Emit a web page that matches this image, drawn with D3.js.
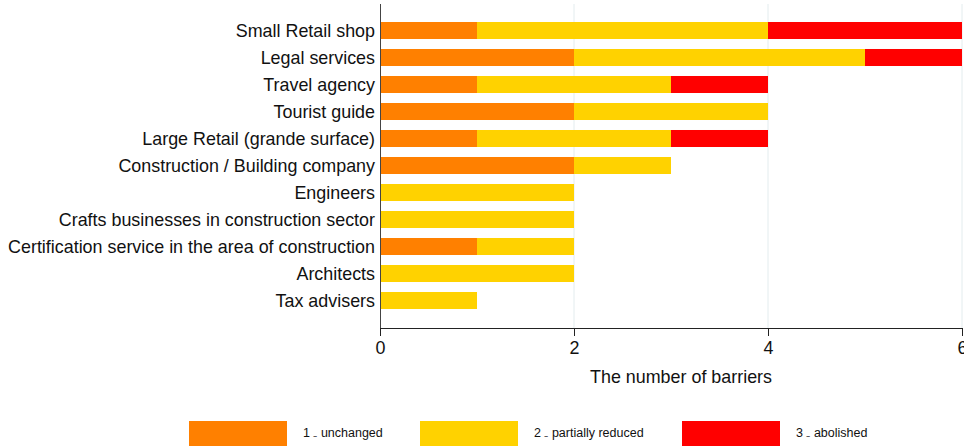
<!DOCTYPE html>
<html><head><meta charset="utf-8">
<script src="https://cdn.jsdelivr.net/npm/d3@7"></script>
<style>body{margin:0;background:#fff}svg{display:block}text{font-family:"Liberation Sans",Arial,sans-serif}</style>
</head><body><svg width="964" height="446"></svg>
<script>
const categories = ["Small Retail shop","Legal services","Travel agency","Tourist guide","Large Retail (grande surface)","Construction / Building company","Engineers","Crafts businesses in construction sector","Certification service in the area of construction","Architects","Tax advisers"];
const unchanged = [1,2,1,2,1,2,0,0,1,0,0];
const partiallyReduced = [3,3,2,2,2,1,2,2,1,2,1];
const abolished = [2,1,1,0,1,0,0,0,0,0,0];
const seriesNames = ["1 \u208B unchanged","2 \u208B partially reduced","3 \u208B abolished"];
const colors = ["#FF8000","#FFD200","#FF0000"];
const xTicks = [0,2,4,6];

const svg = d3.select("svg");
const x = d3.scaleLinear().domain([0,6]).range([380,962]);
const y = d3.scaleBand().domain(categories).range([17,314]).paddingInner(0.37).paddingOuter(0.185);

// gridlines
svg.append("g").selectAll("line").data(xTicks.filter(d=>d>0)).join("line")
  .attr("x1",d=>x(d)).attr("x2",d=>x(d)).attr("y1",4).attr("y2",328)
  .attr("stroke","#e3ecee").attr("stroke-width",1);

const stackData = categories.map((c,i)=>({cat:c, s0:unchanged[i], s1:partiallyReduced[i], s2:abolished[i]}));
const stack = d3.stack().keys(["s0","s1","s2"])(stackData);

svg.append("g").selectAll("g").data(stack).join("g")
  .attr("fill",(d,i)=>colors[i])
  .selectAll("rect").data(d=>d.filter(p=>p[1]>p[0])).join("rect")
  .attr("x",d=>x(d[0])).attr("width",d=>x(d[1])-x(d[0]))
  .attr("y",d=>y(d.data.cat)).attr("height",y.bandwidth());

// x axis
const xa = svg.append("g").attr("transform","translate(0,328)")
  .call(d3.axisBottom(x).tickValues(xTicks).tickFormat(d3.format("d")).tickSize(8).tickPadding(5).tickSizeOuter(0));
xa.select(".domain").attr("stroke","#222");
xa.selectAll(".tick line").attr("stroke","#222");
xa.selectAll("text").attr("font-size",17.9).attr("fill","#111");

// y axis line
svg.append("line").attr("x1",380.5).attr("x2",380.5).attr("y1",4).attr("y2",328).attr("stroke","#444");

// category labels
svg.append("g").selectAll("text").data(categories).join("text")
  .attr("x",375).attr("y",d=>y(d)+y.bandwidth()/2).attr("dy","0.35em")
  .attr("text-anchor","end").attr("font-size",17.9).attr("fill","#111").text(d=>d);

svg.append("text").attr("x",681).attr("y",383).attr("text-anchor","middle")
  .attr("font-size",17.9).attr("fill","#111").text("The number of barriers");

// legend
const legX = [189,420,682];
const lg = svg.append("g").selectAll("g").data(seriesNames).join("g")
  .attr("transform",(d,i)=>`translate(${legX[i]},421)`);
lg.append("rect").attr("width",98).attr("height",25).attr("fill",(d,i)=>colors[i]);
lg.append("text").attr("x",114).attr("y",16).attr("font-size",12.5).attr("fill","#111").text(d=>d);
</script></body></html>
